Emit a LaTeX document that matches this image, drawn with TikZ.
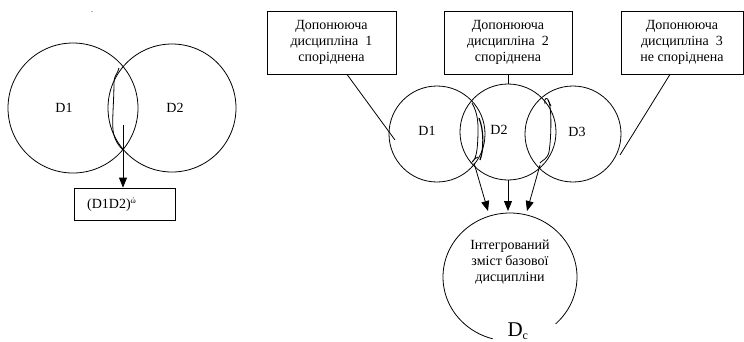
\documentclass[tikz,border=0pt]{standalone}
\usepackage{fontspec}
\setmainfont{Liberation Serif}
\usetikzlibrary{arrows.meta}
\tikzset{
  ln/.style={line width=0.8pt},
  arr/.style={line width=0.8pt,-{Triangle[length=10pt,width=8pt]}},
  boxn/.style={draw,line width=0.8pt,align=center,inner sep=0pt,font=\fontsize{14}{16}\selectfont},
  circ/.style={draw,circle,line width=0.8pt,inner sep=0pt},
  lbl/.style={font=\fontsize{14}{16}\selectfont,inner sep=0pt},
}
\begin{document}
\begin{tikzpicture}[x=1pt,y=-1pt]
\useasboundingbox (0,0) rectangle (744,341);
% stray dot
\node[lbl,font=\fontsize{8}{8}\selectfont] (dot) at (92,12) {.};
% ---- left diagram
\node[circ,minimum size=130pt] (L1) at (73,108) {};
\node[circ,minimum size=128pt] (L2) at (172,108) {};
\node[lbl] (tL1) at (64,108) {D1};
\node[lbl] (tL2) at (175,108) {D2};
\draw[ln] (119,68) .. controls (117,75) and (114,76) .. (114,82)
  .. controls (114,100) and (112,120) .. (113,130)
  .. controls (114,140) and (119,146) .. (123,150);
\node[draw,line width=0.8pt,minimum width=101pt,minimum height=32pt,inner sep=0pt] (res) at (124.5,204) {};
\node[lbl,anchor=west] (tres) at (87,205) {(D1D2)\textsuperscript{\fontsize{8}{8}\selectfont ώ}};
\coordinate (lA) at (123,125);
\draw[arr] (lA) -- (res.north -| lA);
% ---- right diagram
\node[boxn,minimum width=129pt,minimum height=63pt] (b1) at (331.5,42.5) {Допонююча\\дисципліна\ \ 1\\споріднена};
\node[boxn,minimum width=128pt,minimum height=63pt] (b2) at (508,42.5) {Допонююча\\дисципліна\ \ 2\\споріднена};
\node[boxn,minimum width=122pt,minimum height=63pt] (b3) at (682,42.5) {Допонююча\\дисципліна\ \ 3\\не споріднена};
\node[circ,minimum size=96pt] (c1) at (437,134) {};
\node[circ,minimum size=96pt] (c2) at (508,132) {};
\node[circ,minimum size=96pt] (c3) at (573,134) {};
\node[lbl] (t1) at (427,131) {D1};
\node[lbl] (t2) at (499,130) {D2};
\node[lbl] (t3) at (577,132) {D3};
\coordinate (e1) at (395,140);
\coordinate (e3) at (620,155);
\draw[ln] (b1.south -| 347,0) -- (e1);
\draw[ln] (b2.south) -- (c2.north);
\draw[ln] (b3.south -| 670,0) -- (e3);
% squiggles
\draw[ln] (472,103) .. controls (476,110) and (478,118) .. (478,128)
  .. controls (478,145) and (477,155) .. (474,160)
  .. controls (470,165) and (474,158) .. (478,157);
\draw[line width=1.2pt] (479,118) .. controls (484,130) and (484,150) .. (480,160);
\draw[ln] (545,104) .. controls (543,98) and (548,96) .. (549,102)
  .. controls (552,112) and (551,140) .. (549,152)
  .. controls (547,160) and (542,160) .. (540,163);
\draw[ln] (548,100) -- (551,106);
% bottom ellipse
\coordinate (ec) at (510,277);
\coordinate (a1) at (488,211);
\coordinate (a2) at (508,211);
\coordinate (a3) at (527,211);
\coordinate (s1) at (474,163);
\coordinate (s2) at (508,180);
\coordinate (s3) at (540,165);
\draw[ln] (555.7,323.8) arc[start angle=47,end angle=-255,x radius=67,y radius=64];
\draw[arr] (s1) -- (a1);
\draw[arr] (s2) -- (a2);
\draw[arr] (s3) -- (a3);
\node[lbl,align=center] (tc) at (510,262) {Інтегрований\\зміст базової\\дисципліни};
\node[lbl,font=\fontsize{21}{21}\selectfont,anchor=south] (dc) at (518,340) {D\textsubscript{\fontsize{12}{12}\selectfont c}};
\end{tikzpicture}
\end{document}
